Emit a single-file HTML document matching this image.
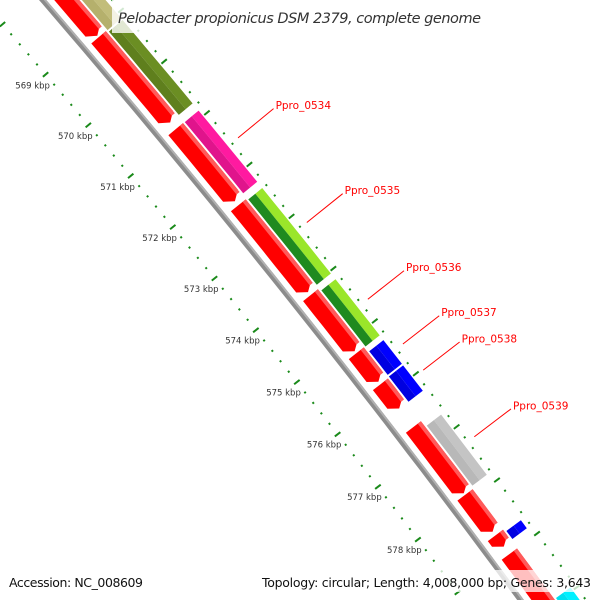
<!DOCTYPE html>
<html><head><meta charset="utf-8"><style>
html,body{margin:0;padding:0;background:#fff;overflow:hidden;}
svg{display:block;font-family:"DejaVu Sans","Liberation Sans",sans-serif;}
</style></head><body>
<svg id="map" width="600" height="600" viewBox="0 0 600 600" xmlns="http://www.w3.org/2000/svg">
<g id="trk"></g>
<g id="scr"></g>
<rect x="112" y="-4" width="378" height="37" fill="#fff" opacity="0.8"/>
<text x="118" y="23" font-size="14.5" font-style="italic" fill="#333" textLength="363">Pelobacter propionicus DSM 2379, complete genome</text>
<rect x="0" y="570" width="600" height="22" fill="#fff" opacity="0.75"/>
<text x="9" y="587" font-size="12.5" fill="#111" textLength="134">Accession: NC_008609</text>
<text x="591" y="587" font-size="12.5" fill="#111" text-anchor="end" textLength="329">Topology: circular; Length: 4,008,000 bp; Genes: 3,643</text>
</svg>
<script>
// data (kbp)
const majorTicks = [566,567,568,569,570,571,572,573,574,575,576,577,578,579,580,581];
const tickLabels = ["569 kbp","570 kbp","571 kbp","572 kbp","573 kbp","574 kbp","575 kbp","576 kbp","577 kbp","578 kbp"];
const tickLabelKbp = [569,570,571,572,573,574,575,576,577,578];
const reverseStarts = [567.41,569.09,570.89,572.37,574.10,575.21,575.80,576.61,577.89,578.65,579.00];
const reverseEnds   = [569.06,570.76,572.29,574.04,575.17,575.75,576.26,577.86,578.58,578.86,580.94];
const outerNames  = ["","","Ppro_0534","Ppro_0535","Ppro_0536","Ppro_0537","Ppro_0538","Ppro_0539","",""];
const outerStarts = [567.41,569.11,570.88,572.38,574.13,575.29,575.77,576.70,578.68,579.93];
const outerEnds   = [569.11,570.77,572.29,574.05,575.23,575.77,576.28,577.86,578.86,580.94];
const outerColors = ["#c2bd7a","#6b8e23","#ff1aa0","#9ae62a","#9ae62a","#0000ff","#0000ff","#c4c4c4","#0000ff","#00f0ff"];
const outerDark   = ["#b5b06c","#5f7f1d","#e0148c","#1f8a1f","#1f8a1f","#0000e0","#0000e0","#b8b8b8","#0000e0","#00e0f0"];

const NS="http://www.w3.org/2000/svg";
const trk=document.getElementById('trk'), scr=document.getElementById('scr');
const R=10000, A0=300, TH0=51.0*Math.PI/180, P0=[47+0.629*300,0.777*300];
function A(k){return 56+(k-569)*66.5;}
function S(a,p){
  const th=TH0+(a-A0)/R;
  const bx=P0[0]+R*(Math.sin(th)-Math.sin(TH0));
  const by=P0[1]-R*(Math.cos(th)-Math.cos(TH0));
  return [bx+Math.sin(th)*p, by-Math.cos(th)*p];
}
function mk(parent,tag,attrs){const e=document.createElementNS(NS,tag);for(const k in attrs)e.setAttribute(k,attrs[k]);parent.appendChild(e);return e;}
function band(a,b,p1,p2){ // polygon points for arc band
  const pts=[];const n=Math.max(2,Math.ceil((b-a)/20));
  for(let i=0;i<=n;i++)pts.push(S(a+(b-a)*i/n,p1));
  for(let i=n;i>=0;i--)pts.push(S(a+(b-a)*i/n,p2));
  return pts.map(p=>p[0].toFixed(1)+','+p[1].toFixed(1)).join(' ');
}
function arrow(a,b,p1,p2,h){
  const pts=[];const n=Math.max(2,Math.ceil((b-h-a)/20));
  for(let i=0;i<=n;i++)pts.push(S(a+(b-h-a)*i/n,p1));
  pts.push(S(b,(p1+p2)/2));
  for(let i=n;i>=0;i--)pts.push(S(a+(b-h-a)*i/n,p2));
  return pts.map(p=>p[0].toFixed(1)+','+p[1].toFixed(1)).join(' ');
}
// backbone
let bb=mk(trk,'polygon',{points:band(-100,900,-1.5,4),fill:'#8c8c8c'});


let bb2=mk(trk,'polygon',{points:band(-100,900,2,4),fill:'#b0b0b0'});



for(let i=0;i<reverseStarts.length;i++){
  const a=A(reverseStarts[i]), b=A(reverseEnds[i]);
  const h=Math.min(7,(b-a)/2);
  const g=mk(trk,'polygon',{points:arrow(a,b,10,29,h),fill:'#ff0000'});
  
  
  const hl=mk(trk,'polygon',{points:band(a,b-h*0.6,25,29),fill:'#ff5a5a'});
  
  
}
for(let i=0;i<outerStarts.length;i++){
  const a=A(outerStarts[i])+1, b=A(outerEnds[i])-1;
  const o=mk(trk,'polygon',{points:band(a,b,40,49),fill:outerColors[i]});
  
  
  const d=mk(trk,'polygon',{points:band(a,b,31,40),fill:outerDark[i]});
  
  
  if(outerNames[i]){
    const m=A((outerStarts[i]+outerEnds[i])/2);
    const p1=S(m,62),p2=S(m,108);
    const ln=mk(scr,'line',{x1:p1[0],y1:p1[1],x2:p2[0],y2:p2[1],stroke:'#ff0000','stroke-width':1});
    
    
    const t=mk(scr,'text',{x:p2[0]+2,y:p2[1]+0.5,'font-size':10.5,fill:'#ff0000'});
    t.textContent=outerNames[i];
    
    
  }
}
for(const ring of [{p:-45,name:'inner'},{p:54,name:'outer'}]){
  for(let k=0;k<majorTicks.length-1;k++){
    for(let j=0;j<5;j++){
      const a=A(majorTicks[k]+j*0.2);
      const len=j===0?7:2;
      const q1=S(a,ring.p-len/2),q2=S(a,ring.p+len/2);
      const tk=mk(scr,'line',{x1:q1[0],y1:q1[1],x2:q2[0],y2:q2[1],stroke:'#1a8a1a','stroke-width':2});
      
      
    }
  }
}
for(let i=0;i<tickLabels.length;i++){
  const p=S(A(tickLabelKbp[i]),-62);
  const t=mk(scr,'text',{x:p[0],y:p[1]+3,'font-size':8.5,fill:'#333','text-anchor':'middle'});
  t.textContent=tickLabels[i];
  
  
}
</script>
</body></html>
